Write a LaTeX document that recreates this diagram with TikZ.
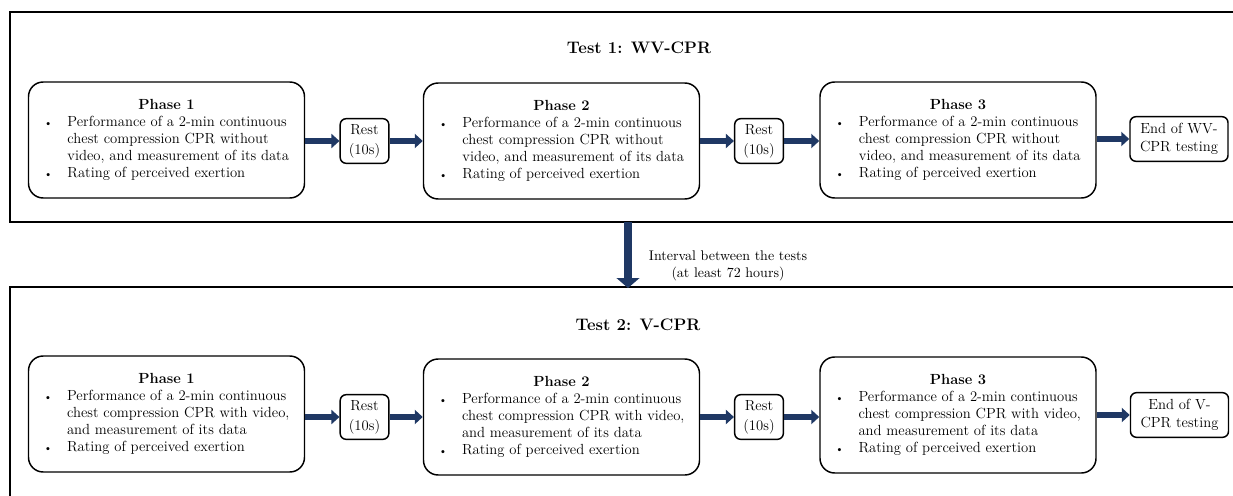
\documentclass[tikz,border=0pt]{standalone}
\usetikzlibrary{arrows.meta,positioning}
\definecolor{arrowblue}{RGB}{31,56,100}

% body of one phase box: title, three lines of the first bullet, second bullet
\newcommand{\phasebody}[5]{%
	\begin{tabular}{@{}l@{\hspace{11pt}}l@{}}
		\multicolumn{2}{c}{\textbf{#1}}\\
		{\footnotesize\textbullet} & #2\\
		& #3\\
		& #4\\
		{\footnotesize\textbullet} & #5
	\end{tabular}}

\begin{document}
\begin{tikzpicture}[x=0.75pt,y=-0.75pt,
	every node/.style={font=\fontsize{11}{12.75}\selectfont},
	phasebox/.style={draw,line width=1.1pt,rounded corners=11pt,
		minimum width=207pt,minimum height=87pt,inner sep=0pt},
	restbox/.style={draw,line width=1.1pt,rounded corners=4.5pt,align=center,
		minimum width=36.5pt,minimum height=33.5pt,inner sep=1pt,
		font=\fontsize{11}{15}\selectfont},
	endbox/.style={restbox,minimum width=73.5pt,font=\fontsize{11}{13}\selectfont},
	frame/.style={line width=1.5pt},
	flowarrow/.style={arrowblue,line width=4.5pt,
		-{Triangle[length=6pt,width=10.5pt]}},
	gaparrow/.style={arrowblue,line width=6.5pt,
		-{Triangle[length=7.5pt,width=17pt]}},
	title/.style={font=\fontsize{12.5}{14}\selectfont\bfseries}]
	\useasboundingbox (0,0) rectangle (1233,496);

	% the two test frames, running off the page
	\begin{scope}
		\clip (0,0) rectangle (1233,496);
		\draw[frame] (10,12) rectangle (1245,222);
		\draw[frame] (10,287) rectangle (1245,520);
	\end{scope}

	% test 1
	\node[title] (t1) at (639,48) {Test 1: WV-CPR};
	\node[phasebox] (a1) at (166.5,140)
		{\phasebody{Phase 1}{Performance of a 2-min continuous}{chest compression CPR without}{video, and measurement of its data}{Rating of perceived exertion}};
	\node[restbox] (ra1) at (364.5,141) {Rest\\(10s)};
	\node[phasebox] (a2) at (561.5,141)
		{\phasebody{Phase 2}{Performance of a 2-min continuous}{chest compression CPR without}{video, and measurement of its data}{Rating of perceived exertion}};
	\node[restbox] (ra2) at (759,141) {Rest\\(10s)};
	\node[phasebox] (a3) at (958,140)
		{\phasebody{Phase 3}{Performance of a 2-min continuous}{chest compression CPR without}{video, and measurement of its data}{Rating of perceived exertion}};
	\node[endbox] (ea) at (1179,139) {End of WV-\\CPR testing};

	\draw[flowarrow] (a1.east |- ra1) -- (ra1);
	\draw[flowarrow] (ra1) -- (a2.west |- ra1);
	\draw[flowarrow] (a2.east |- ra2) -- (ra2);
	\draw[flowarrow] (ra2) -- (a3.west |- ra2);
	\draw[flowarrow] (a3.east |- ea) -- (ea);

	% interval between the tests
	\coordinate (gaptop) at (628,222);
	\coordinate (gapbot) at (628,288);
	\draw[gaparrow] (gaptop) -- (gapbot);
	\node[align=center,font=\fontsize{10.5}{12.75}\selectfont] (gap) at (728,266)
		{Interval between the tests\\(at least 72 hours)};

	% test 2
	\node[title] (t2) at (638,325) {Test 2: V-CPR};
	\node[phasebox] (b1) at (166.5,414)
		{\phasebody{Phase 1}{Performance of a 2-min continuous}{chest compression CPR with video,}{and measurement of its data}{Rating of perceived exertion}};
	\node[restbox] (rb1) at (364.5,417) {Rest\\(10s)};
	\node[phasebox] (b2) at (561.5,417)
		{\phasebody{Phase 2}{Performance of a 2-min continuous}{chest compression CPR with video,}{and measurement of its data}{Rating of perceived exertion}};
	\node[restbox] (rb2) at (759,417) {Rest\\(10s)};
	\node[phasebox] (b3) at (958,415)
		{\phasebody{Phase 3}{Performance of a 2-min continuous}{chest compression CPR with video,}{and measurement of its data}{Rating of perceived exertion}};
	\node[endbox] (eb) at (1179.5,415) {End of V-\\CPR testing};

	\draw[flowarrow] (b1.east |- rb1) -- (rb1);
	\draw[flowarrow] (rb1) -- (b2.west |- rb1);
	\draw[flowarrow] (b2.east |- rb2) -- (rb2);
	\draw[flowarrow] (rb2) -- (b3.west |- rb2);
	\draw[flowarrow] (b3.east |- eb) -- (eb);
\end{tikzpicture}
\end{document}
